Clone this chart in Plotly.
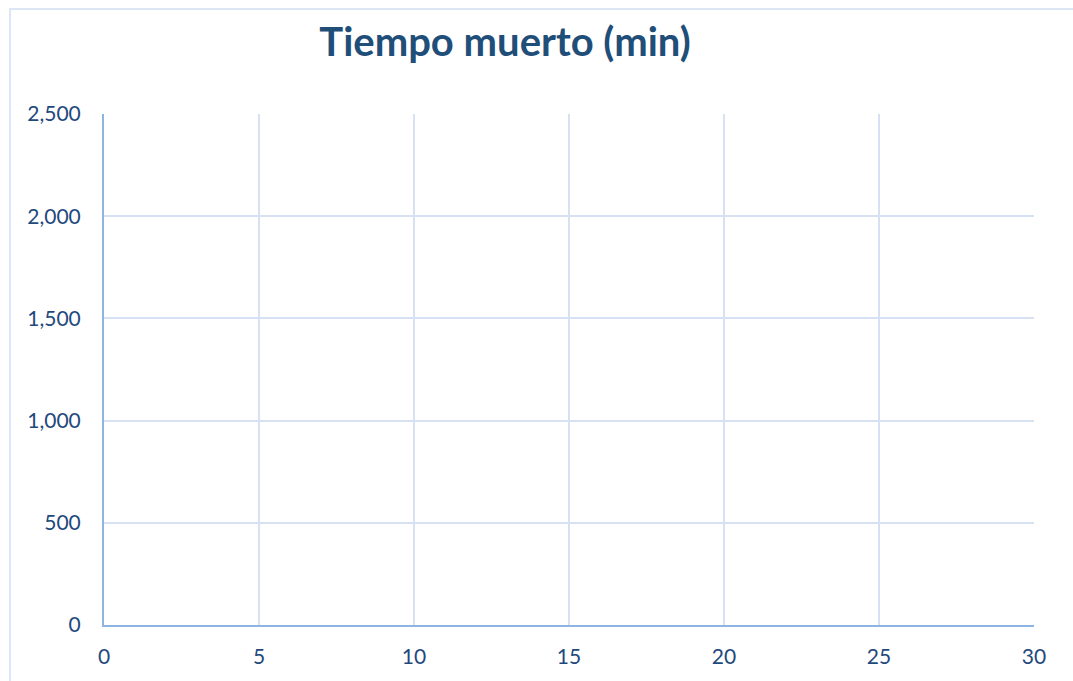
import plotly.graph_objects as go

# Axis ticks and the (empty) series for the chart
x_ticks = [0, 5, 10, 15, 20, 25, 30]
y_ticks = [0, 500, 1000, 1500, 2000, 2500]
y_tick_labels = ["0", "500", "1,000", "1,500", "2,000", "2,500"]
tiempo_x = []
tiempo_y = []

title_color = "#1F4E79"
tick_color = "#1F497D"
axis_color = "#8EB4E3"
grid_color = "#D6E2F3"

fig = go.Figure()
fig.add_trace(go.Scatter(x=tiempo_x, y=tiempo_y, mode="lines+markers",
                         name="Tiempo muerto (min)", showlegend=False))

# light outer chart-area frame
fig.add_shape(type="rect", xref="paper", yref="paper",
              x0=-0.101, x1=1.2, y0=-0.3, y1=1.2055,
              line=dict(color="#DCE6F4", width=2), fillcolor="rgba(0,0,0,0)",
              layer="below")

fig.update_layout(
    width=1073, height=681,
    margin=dict(l=104, r=39, t=114, b=56),
    paper_bgcolor="white", plot_bgcolor="white",
    title=dict(text="<b>Tiempo muerto (min)</b>", x=505 / 1073, xanchor="center",
               y=1 - 42 / 681, yanchor="middle",
               font=dict(family="Lato", size=40, color=title_color)),
    font=dict(family="Lato", size=21, color=tick_color),
    xaxis=dict(range=[0, 30], tickvals=x_ticks, ticktext=[str(v) for v in x_ticks],
               showgrid=True, gridcolor=grid_color, gridwidth=2,
               showline=True, linecolor=axis_color, linewidth=2,
               zeroline=False, ticks="", ticklabelstandoff=12,
               tickfont=dict(family="Lato", size=21, color=tick_color)),
    yaxis=dict(range=[0, 2500], tickvals=y_ticks, ticktext=y_tick_labels,
               showgrid=True, gridcolor=grid_color, gridwidth=2,
               showline=True, linecolor=axis_color, linewidth=2,
               zeroline=False, ticks="", ticklabelstandoff=17,
               tickfont=dict(family="Lato", size=21, color=tick_color)),
)

fig.write_html("out.html")
